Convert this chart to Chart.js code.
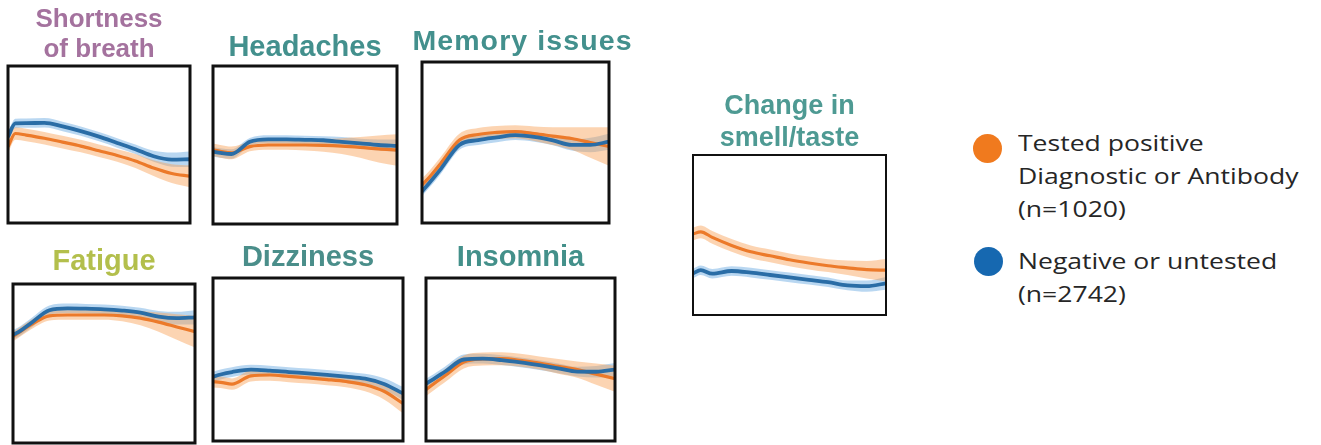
<!DOCTYPE html>
<html>
<head>
<meta charset="utf-8">
<script src="https://cdn.jsdelivr.net/npm/chart.js@4/dist/chart.umd.min.js"></script>
<style>
  html, body { margin: 0; padding: 0; background: #ffffff; }
  body { width: 1321px; height: 445px; position: relative; overflow: hidden; }
  .panel { position: absolute; }
  .legend { position: absolute; left: 1018px; font-family: "Open Sans", sans-serif; font-size: 22.5px; line-height: 33px; color: #262626; white-space: nowrap; transform: scaleX(1.18); transform-origin: left top; }
  .dot { position: absolute; width: 29px; height: 29px; border-radius: 50%; }
</style>
</head>
<body>
<div class="panel" id="p1"><canvas id="c1"></canvas></div>
<div class="panel" id="p2"><canvas id="c2"></canvas></div>
<div class="panel" id="p3"><canvas id="c3"></canvas></div>
<div class="panel" id="p4"><canvas id="c4"></canvas></div>
<div class="panel" id="p5"><canvas id="c5"></canvas></div>
<div class="panel" id="p6"><canvas id="c6"></canvas></div>
<div class="panel" id="p7"><canvas id="c7"></canvas></div>

<div class="dot" style="left:973px; top:134px; background:#f07a1e;"></div>
<div class="legend" style="top:126px;">Tested positive<br>Diagnostic or Antibody<br>(n=1020)</div>
<div class="dot" style="left:974px; top:247px; background:#1668b0;"></div>
<div class="legend" style="top:244px;">Negative or untested<br>(n=2742)</div>

<script>
// ---- x positions (time, shared by every panel) ----
const xs = [0, 0.4, 1, 2, 3, 4, 5, 6, 7, 8, 9, 10];

// ---- series labels ----
const seriesNames = ["Tested positive Diagnostic or Antibody (n=1020)", "Negative or untested (n=2742)"];

// ---- Shortness of breath ----
const sobPos   = [48.5, 57, 56, 54, 51.5, 49, 46, 43, 39.5, 35, 31.5, 29.8];
const sobPosCI = [4, 4, 4, 4, 4, 4, 4, 4, 4.5, 5, 6, 7];
const sobNeg   = [54.9, 63.4, 63.6, 63.8, 61.5, 58.5, 55, 51, 47, 42.5, 40.4, 40.6];
const sobNegCI = [3, 3, 3, 3, 3, 3, 3, 3, 3, 3.5, 4.5, 5];

// ---- Headaches ----
const headPos   = [47, 46, 45, 49, 50, 50, 50, 49.8, 49.3, 48.5, 47.5, 46.8];
const headPosCI = [4, 4, 4, 3, 3, 3, 3.5, 4, 5, 6.5, 8.5, 10];
const headNeg   = [45.8, 45, 44.3, 52, 53.6, 53.6, 53.3, 53, 52, 51, 50, 49.5];
const headNegCI = [3, 3, 3, 2.5, 2.5, 2.5, 2.5, 2.5, 3, 3, 3.5, 4];

// ---- Memory issues ----
const memPos   = [23.7, 28.5, 37, 51.5, 55, 56.3, 56.7, 55.5, 54, 52.5, 50, 47.5];
const memPosCI = [4, 4, 4, 4, 4, 4, 4, 4.5, 5.5, 7, 9.5, 12];
const memNeg   = [19.6, 25, 33.5, 48.5, 51.5, 53.2, 54.6, 53.5, 51.3, 48.5, 48.5, 50.5];
const memNegCI = [3, 3, 3, 3, 3, 3, 3, 3, 3, 3.5, 4.5, 5];

// ---- Fatigue ----
const fatPos   = [67, 70, 74.5, 80, 80.5, 80.5, 80.5, 80, 78.5, 76, 73, 70];
const fatPosCI = [3, 3, 3, 3, 3, 3, 3, 3.5, 4.5, 6, 8, 10];
const fatNeg   = [68, 70.5, 75.5, 83.5, 84.7, 84.5, 84.1, 83.3, 82, 79.5, 78.5, 79];
const fatNegCI = [3, 3, 3, 3, 3, 3, 3, 3, 3, 3.5, 4, 4.5];

// ---- Dizziness ----
const dizPos   = [36.3, 36, 34.9, 40, 40.5, 39.6, 38.7, 37.7, 36.5, 34.5, 30.5, 23];
const dizPosCI = [3.5, 3.5, 3.5, 3.5, 3.5, 3.5, 3.5, 3.5, 3.5, 4, 5, 6];
const dizNeg   = [39.4, 40.8, 42.3, 43.8, 43.2, 42.3, 41.5, 40.6, 39.5, 38.2, 35, 29.2];
const dizNegCI = [3, 3, 3, 3, 3, 3, 3, 3, 3, 3, 3.5, 4];

// ---- Insomnia ----
const insPos   = [31.5, 35, 40, 48.5, 50.3, 50.5, 49.5, 47.8, 45.8, 43.8, 41, 38.2];
const insPosCI = [4, 4, 4, 4, 4, 4, 4, 4, 4.5, 5, 6.5, 8];
const insNeg   = [35.2, 38, 42.5, 50, 50.5, 49.6, 48.2, 46.5, 44.6, 42.6, 42.5, 43.8];
const insNegCI = [3, 3, 3, 3, 3, 3, 3, 3, 3, 3, 3.5, 4];

// ---- Change in smell/taste ----
const smePos   = [50.6, 52, 48.5, 43.5, 39.5, 37, 34.5, 32.5, 30.8, 29.5, 28.3, 28];
const smePosCI = [4, 4, 4, 4, 4, 4, 4, 4, 4, 4.5, 5.5, 7];
const smeNeg   = [26, 28, 25.8, 27.5, 26.5, 25, 23.5, 22, 20.5, 18.5, 18, 19.8];
const smeNegCI = [3, 3, 3, 3, 3, 3, 3, 3, 3, 3, 3.5, 4];

// ---- panel titles ----
const titles = [
  ["Shortness", "of breath"],
  "Headaches",
  "Memory issues",
  "Fatigue",
  "Dizziness",
  "Insomnia",
  ["Change in", "smell/taste"]
];

const ORANGE = '#ec7a2a', ORANGE_BAND = 'rgba(248,160,85,0.45)';
const BLUE = '#2a6da6', BLUE_BAND = 'rgba(80,155,220,0.4)';

function pts(vals, ci, sign) {
  return xs.map((x, i) => ({ x: x, y: ci ? vals[i] + sign * ci[i] : vals[i] }));
}

const boxPlugin = {
  id: 'box',
  beforeDraw(chart, args, opts) {
    chart.ctx.letterSpacing = (opts.spacing || 0) + 'px';
  },
  afterDatasetsDraw(chart, args, opts) {
    const a = chart.chartArea, ctx = chart.ctx;
    ctx.save();
    ctx.strokeStyle = '#111';
    ctx.lineWidth = opts.width;
    ctx.strokeRect(a.left, a.top, a.right - a.left, a.bottom - a.top);
    ctx.restore();
  }
};

function spacer(pos, w) {
  return { position: pos, min: 0, max: 100, display: true,
    grid: { display: false }, border: { display: false }, ticks: { display: false },
    afterFit(s) { s.width = w; } };
}

function makePanel(n, cfg) {
  const exL = cfg.exL || 0, exR = cfg.exR || 0;
  const div = document.getElementById('p' + n);
  div.style.left = (cfg.box[0] - 2 - exL) + 'px';
  div.style.top = cfg.top + 'px';
  div.style.width = (cfg.box[1] - cfg.box[0] + 4 + exL + exR) + 'px';
  div.style.height = (cfg.box[3] + 2 - cfg.top) + 'px';
  const common = { pointRadius: 0, cubicInterpolationMode: 'monotone' };
  const scales = {
    x: { type: 'linear', min: 0, max: 10, display: false },
    y: { min: 0, max: 100, display: false }
  };
  if (exL) scales.padL = spacer('left', exL);
  if (exR) scales.padR = spacer('right', exR);
  new Chart(document.getElementById('c' + n), {
    type: 'line',
    data: {
      datasets: [
        Object.assign({ label: seriesNames[1], data: pts(cfg.neg), borderColor: BLUE, borderWidth: 3.8, fill: false }, common),
        Object.assign({ label: seriesNames[0], data: pts(cfg.pos), borderColor: ORANGE, borderWidth: 3.2, fill: false }, common),
        Object.assign({ label: 'pos upper', data: pts(cfg.pos, cfg.posCI, 1), borderWidth: 0, borderColor: 'rgba(0,0,0,0)', backgroundColor: ORANGE_BAND, fill: '+1' }, common),
        Object.assign({ label: 'pos lower', data: pts(cfg.pos, cfg.posCI, -1), borderWidth: 0, borderColor: 'rgba(0,0,0,0)', fill: false }, common),
        Object.assign({ label: 'neg upper', data: pts(cfg.neg, cfg.negCI, 1), borderWidth: 0, borderColor: 'rgba(0,0,0,0)', backgroundColor: BLUE_BAND, fill: '+1' }, common),
        Object.assign({ label: 'neg lower', data: pts(cfg.neg, cfg.negCI, -1), borderWidth: 0, borderColor: 'rgba(0,0,0,0)', fill: false }, common)
      ]
    },
    options: {
      responsive: true,
      maintainAspectRatio: false,
      animation: false,
      events: [],
      layout: { padding: { left: 2, right: 2, top: 0, bottom: 2 } },
      scales: scales,
      plugins: {
        legend: { display: false },
        tooltip: { enabled: false },
        title: {
          display: true,
          text: titles[n - 1],
          color: cfg.color,
          font: { family: "'Liberation Sans', Arial, sans-serif", weight: 'bold', size: cfg.fs, lineHeight: cfg.lh + 'px' },
          padding: { top: 0, bottom: cfg.pb }
        },
        box: { width: cfg.bw, spacing: cfg.ls || 0 }
      }
    },
    plugins: [boxPlugin]
  });
}

makePanel(1, { box: [8, 190, 66, 223], top: 5, lh: 30, fs: 26, pb: 1, color: '#a4729e', bw: 3,
  pos: sobPos, posCI: sobPosCI, neg: sobNeg, negCI: sobNegCI });
makePanel(2, { box: [213, 397, 66, 224], top: 32, lh: 32, fs: 29, pb: 2, color: '#43908d', bw: 3,
  pos: headPos, posCI: headPosCI, neg: headNeg, negCI: headNegCI });
makePanel(3, { box: [422, 609, 62, 223], top: 26, lh: 32, fs: 28.5, pb: 4, color: '#43908d', bw: 3, ls: 1.1, exL: 12, exR: 26,
  pos: memPos, posCI: memPosCI, neg: memNeg, negCI: memNegCI });
makePanel(4, { box: [13, 195, 284, 443], top: 246, lh: 32, fs: 29, pb: 6, color: '#b3bf4c', bw: 3,
  pos: fatPos, posCI: fatPosCI, neg: fatNeg, negCI: fatNegCI });
makePanel(5, { box: [213, 403, 278, 441], top: 242, lh: 32, fs: 29, pb: 4, color: '#4a8e8a', bw: 3,
  pos: dizPos, posCI: dizPosCI, neg: dizNeg, negCI: dizNegCI });
makePanel(6, { box: [426, 615, 278, 441], top: 242, lh: 32, fs: 29, pb: 4, color: '#43908a', bw: 3,
  pos: insPos, posCI: insPosCI, neg: insNeg, negCI: insNegCI });
makePanel(7, { box: [693, 886, 155, 315], top: 91, lh: 32, fs: 27, pb: 0, color: '#4e9a93', bw: 2,
  pos: smePos, posCI: smePosCI, neg: smeNeg, negCI: smeNegCI });
</script>
</body>
</html>
